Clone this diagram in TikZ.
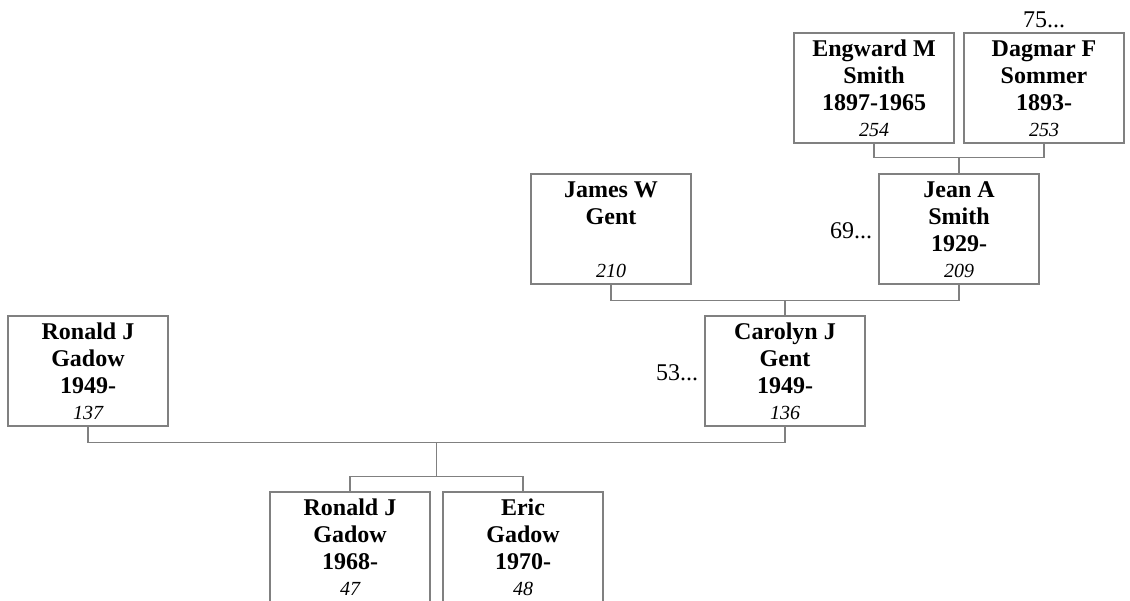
\documentclass[tikz,border=0pt]{standalone}
\usepackage{fontspec}
\setmainfont{Liberation Serif}
\usetikzlibrary{calc}
\definecolor{linegray}{RGB}{128,128,128}
\tikzset{
  personbox/.style={draw=linegray, line width=1.3pt, minimum width=160pt, minimum height=110pt, inner sep=0pt},
  nameline/.style={anchor=base, inner sep=0pt, font=\fontsize{24}{27}\selectfont\bfseries},
  numline/.style={anchor=base, inner sep=0pt, font=\fontsize{20}{24}\selectfont\itshape},
  conn/.style={draw=linegray, line width=1.3pt},
  moreline/.style={inner sep=0pt, font=\fontsize{24}{27}\selectfont},
}
% #1 name, #2 left x, #3 top y, #4 #5 #6 text lines, #7 number
\newcommand\personnode[7]{%
  \node[personbox] (#1) at (#2+80,#3+55) {};
  \node[nameline] (#1-a) at ($(#1.north)+(0,24)$) {#4};
  \node[nameline] (#1-b) at ($(#1.north)+(0,51)$) {#5};
  \node[nameline] (#1-c) at ($(#1.north)+(0,78)$) {#6};
  \node[numline] (#1-n) at ($(#1.north)+(0,104)$) {#7};
}
\begin{document}
\begin{tikzpicture}[x=1pt,y=-1pt]
\useasboundingbox (0,0) rectangle (1130,600);
\clip (0,0) rectangle (1130,600);

\personnode{eng}{794}{33}{Engward M}{Smith}{1897-1965}{254}
\personnode{dag}{964}{33}{Dagmar F}{Sommer}{1893-}{253}
\personnode{james}{531}{174}{James W}{Gent}{}{210}
\personnode{jean}{879}{174}{Jean A}{Smith}{1929-}{209}
\personnode{ron}{8}{316}{Ronald J}{Gadow}{1949-}{137}
\personnode{carolyn}{705}{316}{Carolyn J}{Gent}{1949-}{136}
\personnode{rj}{270}{492}{Ronald J}{Gadow}{1968-}{47}
\personnode{eric}{443}{492}{Eric}{Gadow}{1970-}{48}

% family connectors
\coordinate (f1) at ($(eng.south)!0.5!(dag.south)+(0,14)$);
\draw[conn] (eng.south) |- (f1) -| (dag.south);
\draw[conn] (f1) -- (jean.north);

\coordinate (f2) at ($(james.south)!0.5!(jean.south)+(0,16)$);
\draw[conn] (james.south) |- (f2) -| (jean.south);
\draw[conn] (f2) -- (carolyn.north);

\coordinate (f3) at ($(ron.south)!0.5!(carolyn.south)+(0,16)$);
\draw[conn] (ron.south) |- (f3) -| (carolyn.south);
\coordinate (s3) at ($(f3)+(0,34)$);
\draw[conn] (f3) -- (s3);
\draw[conn] (rj.north) |- (s3) -| (eric.north);

% continuation labels
\node[moreline, anchor=base] (more75) at ($(dag.north)+(0,-5)$) {75...};
\node[moreline, anchor=east] (more69) at ($(jean.west)+(-6,2)$) {69...};
\node[moreline, anchor=east] (more53) at ($(carolyn.west)+(-6,2)$) {53...};
\end{tikzpicture}
\end{document}
